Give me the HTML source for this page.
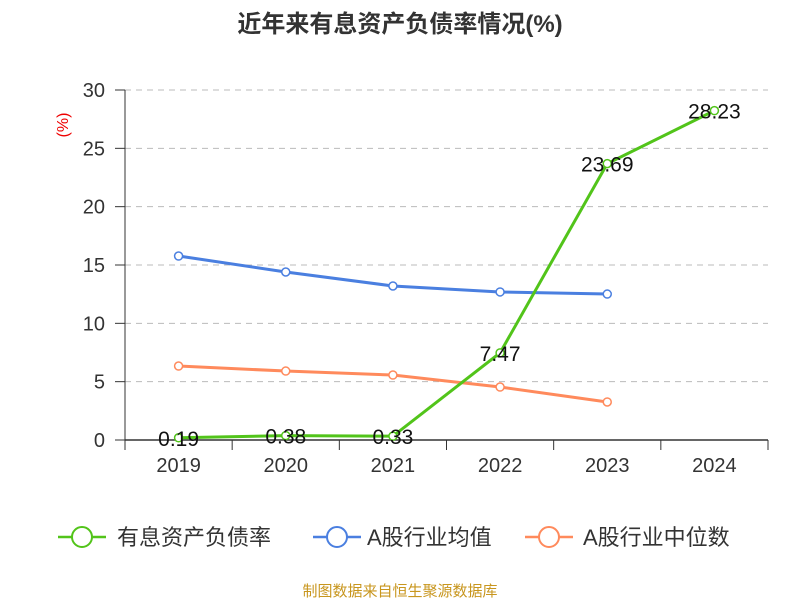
<!DOCTYPE html>
<html><head><meta charset="utf-8"><style>
body{margin:0;background:#fff;font-family:"Liberation Sans","Noto Sans CJK SC",sans-serif;}
svg text{font-family:"Liberation Sans","Noto Sans CJK SC",sans-serif;}
</style></head><body>
<svg id="c" width="800" height="600">
<text x="400" y="32" text-anchor="middle" font-size="24" font-weight="bold" fill="#333">近年来有息资产负债率情况(%)</text>
<text transform="translate(68,125) rotate(-90)" text-anchor="middle" font-size="16" fill="#e00">(%)</text>
<g id="grid"></g><g id="axes"></g><g id="series"></g>
<g>
<g><line x1="58" y1="537" x2="106" y2="537" stroke="#52c41a" stroke-width="2.5"/><circle cx="82" cy="537" r="10" fill="#fff" stroke="#52c41a" stroke-width="2"/><text x="117" y="545" font-size="22" fill="#333">有息资产负债率</text></g>
<g><line x1="313" y1="537" x2="361" y2="537" stroke="#4a7fe0" stroke-width="2.5"/><circle cx="337" cy="537" r="10" fill="#fff" stroke="#4a7fe0" stroke-width="2"/><text x="367" y="545" font-size="22" fill="#333">A股行业均值</text></g>
<g><line x1="525" y1="537" x2="573" y2="537" stroke="#ff8a5c" stroke-width="2.5"/><circle cx="549" cy="537" r="10" fill="#fff" stroke="#ff8a5c" stroke-width="2"/><text x="583" y="545" font-size="22" fill="#333">A股行业中位数</text></g>
</g>
<text x="400" y="596" text-anchor="middle" font-size="15" fill="#c8961e">制图数据来自恒生聚源数据库</text>
</svg>
<script>
const categories=["2019","2020","2021","2022","2023","2024"];
const companyValues=[0.19,0.38,0.33,7.47,23.69,28.23];
const meanValues=[15.77,14.4,13.2,12.69,12.51];
const medianValues=[6.34,5.91,5.57,4.54,3.26];
const yTicks=[0,5,10,15,20,25,30];
const NS="http://www.w3.org/2000/svg";
const x0=125,x1=768,y0=440,y1=90,yMax=30;
const band=(x1-x0)/categories.length;
const xs=i=>x0+band*(i+0.5);
const ys=v=>y0-(v/yMax)*(y0-y1);
function mk(t,a,p){const e=document.createElementNS(NS,t);for(const k in a)e.setAttribute(k,a[k]);p.appendChild(e);return e;}
const grid=document.getElementById('grid'),axes=document.getElementById('axes'),ser=document.getElementById('series');
yTicks.forEach(v=>{
 if(v>0){const g=mk('line',{x1:x0,x2:x1,y1:ys(v),y2:ys(v),stroke:'#bbb','stroke-dasharray':'6,5'},grid);
 
 }
 const tk=mk('line',{x1:x0-10,x2:x0,y1:ys(v),y2:ys(v),stroke:'#333'},axes);
 
 
 const t=mk('text',{x:x0-20,y:ys(v)+7,'text-anchor':'end','font-size':20,fill:'#333'},axes);t.textContent=v;
 
 
});
const ya=mk('line',{x1:x0,x2:x0,y1:y1,y2:y0,stroke:'#333'},axes);


const xa=mk('line',{x1:x0,x2:x1,y1:y0,y2:y0,stroke:'#333','stroke-width':1.5},axes);


for(let i=0;i<=categories.length;i++){const l=mk('line',{x1:x0+band*i,x2:x0+band*i,y1:y0,y2:y0+10,stroke:'#333'},axes);
 
 }
categories.forEach((c,i)=>{const t=mk('text',{x:xs(i),y:472,'text-anchor':'middle','font-size':20,fill:'#333'},axes);t.textContent=c;
 
 });
function series(vals,color,name,labels){
 const g=mk('g',{},ser);
 
 
 const p=mk('polyline',{points:vals.map((v,i)=>xs(i)+','+ys(v)).join(' '),fill:'none',stroke:color,'stroke-width':3},g);
 
 
 vals.forEach((v,i)=>{const c=mk('circle',{cx:xs(i),cy:ys(v),r:4,fill:'#fff',stroke:color,'stroke-width':1.5},g);
  
  
  if(labels){const t=mk('text',{x:xs(i),y:ys(v)+8,'text-anchor':'middle','font-size':21,fill:'#111'},g);t.textContent=v.toFixed(2);
   
   }
 });
}
series(meanValues,'#4a7fe0','industry-mean-series',false);
series(medianValues,'#ff8a5c','industry-median-series',false);
series(companyValues,'#52c41a','company-series',true);
</script>
</body></html>
